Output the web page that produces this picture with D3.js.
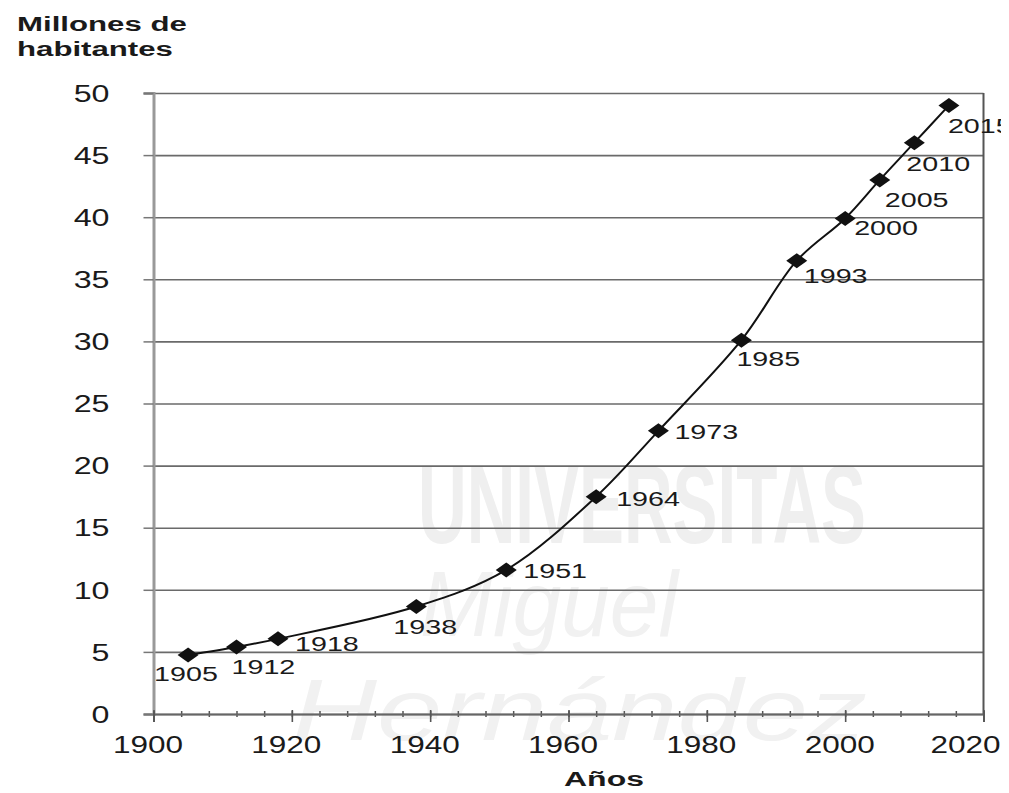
<!DOCTYPE html>
<html>
<head>
<meta charset="utf-8">
<script src="https://cdn.jsdelivr.net/npm/d3@7"></script>
<style>
  html, body { margin: 0; padding: 0; background: #fff; }
  svg { display: block; overflow: hidden; }
  text { font-family: "Liberation Sans", Arial, sans-serif; fill: #1a1a1a; }
</style>
</head>
<body>
<svg id="chart" width="1001" height="793"></svg>
<script>
// ---- data ----
const years = [1905, 1912, 1918, 1938, 1951, 1964, 1973, 1985, 1993, 2000, 2005, 2010, 2015];
const population = [4.75, 5.4, 6.05, 8.65, 11.6, 17.5, 22.8, 30.1, 36.5, 39.9, 43.0, 46.0, 49.0];
const pointLabels = ["1905", "1912", "1918", "1938", "1951", "1964", "1973", "1985", "1993", "2000", "2005", "2010", "2015"];
const xTickValues = [1900, 1920, 1940, 1960, 1980, 2000, 2020];
const xMinorTickValues = d3.range(1900, 2021, 4);
const yTickValues = [0, 5, 10, 15, 20, 25, 30, 35, 40, 45, 50];
const yTitleLines = ["Millones de", "habitantes"];
const xTitle = "Años";
const watermark = ["UNIVERSITAS", "Miguel", "Hernández"];

// ---- layout (label placement relative to each marker) ----
const labelOffsets = [[-34, 26], [-5, 27], [17, 12], [-23, 27], [17, 8], [20, 9], [16, 8],
                      [-5, 26], [7, 22], [9, 17], [5, 27], [-8, 28], [-1, 28]];

const svg = d3.select("#chart");
const W = +svg.attr("width");
const x = d3.scaleLinear().domain([1900, 2020]).range([153.5, 983.5]);
const y = d3.scaleLinear().domain([0, 50]).range([714, 93]);

// watermark (very faint)
const wm = svg.append("g").attr("class", "watermark");
wm.append("text").text(watermark[0])
  .attr("x", 418).attr("y", 543).attr("font-size", 112).attr("font-weight", "bold")
  .attr("textLength", 448).attr("lengthAdjust", "spacingAndGlyphs")
  .style("fill", "#efefef");
wm.append("text").text(watermark[1])
  .attr("x", 420).attr("y", 636).attr("font-size", 92).attr("font-style", "italic")
  .attr("font-family", "Liberation Serif, serif")
  .attr("textLength", 258).attr("lengthAdjust", "spacingAndGlyphs")
  .style("fill", "#f1f1f1");
wm.append("text").text(watermark[2])
  .attr("x", 292).attr("y", 740).attr("font-size", 88).attr("font-style", "italic")
  .attr("font-family", "Liberation Serif, serif")
  .attr("textLength", 575).attr("lengthAdjust", "spacingAndGlyphs")
  .style("fill", "#f1f1f1");

// gridlines
const grid = svg.append("g").attr("transform", `translate(${x(1900)},0)`)
  .call(d3.axisLeft(y).tickValues(yTickValues).tickSize(-(x(2020) - x(1900))).tickFormat(""));
grid.select(".domain").remove();
grid.selectAll(".tick line").attr("stroke", "#6a6a6a").attr("stroke-width", 1.6);

// right border
svg.append("line")
  .attr("x1", x(2020)).attr("x2", x(2020)).attr("y1", y(50)).attr("y2", y(0))
  .attr("stroke", "#555").attr("stroke-width", 2);

// y axis
const yAxis = svg.append("g").attr("transform", `translate(${x(1900)},0)`)
  .call(d3.axisLeft(y).tickValues(yTickValues).tickSize(10).tickPadding(0));
yAxis.attr("font-family", null);
yAxis.select(".domain").attr("stroke", "#999").attr("stroke-width", 3);
yAxis.selectAll(".tick line").attr("stroke", "#777").attr("stroke-width", 1.5);
const ySx = 1.4;
yAxis.selectAll(".tick text")
  .attr("font-size", 23).attr("x", -44 / ySx).attr("dy", "0.36em")
  .attr("transform", `scale(${ySx},1)`)
  .style("fill", "#1a1a1a");

// x axis minor ticks
const xMinor = svg.append("g").attr("transform", `translate(0,${y(0)})`)
  .call(d3.axisBottom(x).tickValues(xMinorTickValues).tickSize(3).tickFormat(""));
xMinor.select(".domain").remove();
xMinor.selectAll(".tick line").attr("y1", -3).attr("stroke", "#555").attr("stroke-width", 1.5);

// x axis major
const xAxis = svg.append("g").attr("transform", `translate(0,${y(0)})`)
  .call(d3.axisBottom(x).tickValues(xTickValues).tickSize(8).tickFormat(d3.format("d")));
xAxis.attr("font-family", null);
xAxis.select(".domain").attr("stroke", "#666").attr("stroke-width", 2);
xAxis.selectAll(".tick line").attr("y1", -4).attr("stroke", "#555").attr("stroke-width", 1.6);
const xSx = 1.37;
xAxis.selectAll(".tick text")
  .attr("font-size", 23).attr("y", 39).attr("dy", 0).attr("x", -6 / xSx)
  .attr("transform", `scale(${xSx},1)`).style("fill", "#1a1a1a")
  .each(function (d) {
    // keep the last label inside the picture
    const bb = this.getBBox();
    const right = x(d) + (bb.x + bb.width) * xSx;
    if (right > W - 1) {
      d3.select(this).attr("x", (bb.x + bb.width / 2) - (right - (W - 1)) / xSx);
    }
  });

// line
const pts = years.map((yr, i) => [x(yr), y(population[i])]);
svg.append("path")
  .datum(pts)
  .attr("d", d3.line().curve(d3.curveCatmullRom.alpha(0.5)))
  .attr("fill", "none").attr("stroke", "#111").attr("stroke-width", 2);

// markers (diamonds)
svg.append("g").selectAll("path")
  .data(years)
  .join("path")
  .attr("transform", (d, i) => `translate(${x(d)},${y(population[i])})`)
  .attr("d", "M0,-7.5L10.5,0L0,7.5L-10.5,0Z")
  .attr("fill", "#111");

// point labels
const lblSx = 1.4;
svg.append("g").selectAll("text")
  .data(years)
  .join("text")
  .attr("transform", (d, i) => `translate(${x(d) + labelOffsets[i][0]},${y(population[i]) + labelOffsets[i][1]}) scale(${lblSx},1)`)
  .attr("font-size", 20.5)
  .text((d, i) => pointLabels[i]);

// y title
svg.append("g").selectAll("text")
  .data(yTitleLines)
  .join("text")
  .attr("transform", (d, i) => `translate(17,${31 + i * 25}) scale(1.6,1)`)
  .attr("font-size", 19.5).attr("font-weight", "bold")
  .text(d => d);

// x title
svg.append("text")
  .attr("transform", `translate(604,786) scale(1.6,1)`)
  .attr("text-anchor", "middle")
  .attr("font-size", 20).attr("font-weight", "bold")
  .text(xTitle);
</script>
</body>
</html>
